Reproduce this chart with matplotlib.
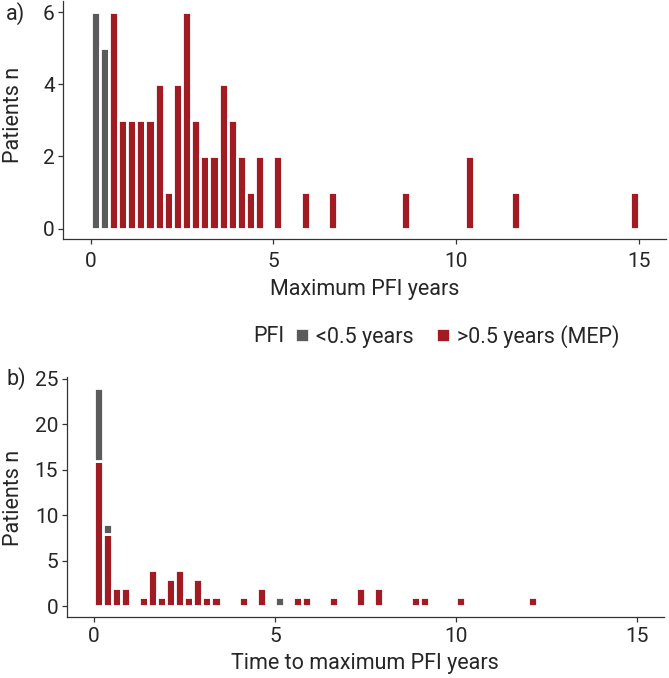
"""
Two histograms of platinum-free interval (PFI): maximum PFI and time to maximum PFI,
split into <0.5 years and >0.5 years (MEP).
"""

import numpy as np
import matplotlib.pyplot as plt
from matplotlib.lines import Line2D

plt.rcParams['font.family'] = ['Roboto', 'DejaVu Sans']

bin_width = 0.25

# a) maximum PFI, bin start (years) and patient counts
max_short_bin = [0.00, 0.25]
max_short_n = [6, 5]
max_long_bin = [0.50, 0.75, 1.00, 1.25, 1.50, 1.75, 2.00, 2.25, 2.50, 2.75, 3.00, 3.25,
                3.50, 3.75, 4.00, 4.25, 4.50, 5.00, 5.75, 6.50, 8.50, 10.25, 11.50, 14.75]
max_long_n = [6, 3, 3, 3, 3, 4, 1, 4, 6, 3, 2, 2,
              4, 3, 2, 1, 2, 2, 1, 1, 1, 2, 1, 1]

# b) time to maximum PFI
time_short_bin = [0.00, 0.25, 5.00]
time_short_n = [8, 1, 1]
time_long_bin = [0.00, 0.25, 0.50, 0.75, 1.25, 1.50, 1.75, 2.00, 2.25, 2.50, 2.75, 3.00,
                 3.25, 4.00, 4.50, 5.50, 5.75, 6.50, 7.25, 7.75, 8.75, 9.00, 10.00, 12.00]
time_long_n = [16, 8, 2, 2, 1, 4, 1, 3, 4, 1, 3, 1,
               1, 1, 2, 1, 1, 1, 2, 2, 1, 1, 1, 1]

grey = "#5b5b5b"
red = "#a01b22"
text_col = "#262626"
axis_col = "#333333"
label_size = 15.5
tick_size = 15


def style_axes(ax, yticks, ylim, xlabel, xpad, labelpad):
    ax.set_xlim(-0.75, 15.75)
    ax.set_ylim(*ylim)
    ax.set_xticks([0, 5, 10, 15])
    ax.set_yticks(yticks)
    for side in ["top", "right"]:
        ax.spines[side].set_visible(False)
    for side in ["left", "bottom"]:
        ax.spines[side].set_color(axis_col)
        ax.spines[side].set_linewidth(0.9)
    ax.tick_params(colors=axis_col, labelcolor=text_col, labelsize=tick_size,
                   length=3.6, width=0.9)
    ax.tick_params(axis="x", pad=xpad)
    ax.tick_params(axis="y", pad=2.5)
    ax.set_xlabel(xlabel, fontsize=label_size, color=text_col, labelpad=labelpad)


fig = plt.figure(figsize=(6.69, 6.78), dpi=100)
ax_a = fig.add_axes([0.0946, 0.647, 0.901, 0.3508])
ax_b = fig.add_axes([0.0997, 0.0895, 0.8928, 0.3545])

bar_kw = dict(width=bin_width, align="edge", edgecolor="white", linewidth=2.0)

# panel a
ax_a.bar(max_short_bin, max_short_n, color=grey, **bar_kw)
ax_a.bar(max_long_bin, max_long_n, color=red, **bar_kw)
style_axes(ax_a, [0, 2, 4, 6], (-0.3, 6.3), "Maximum PFI years", 5.2, 6)

# panel b, stacked: <0.5 years on top of >0.5 years
long_lookup = dict(zip(time_long_bin, time_long_n))
short_bottom = [long_lookup.get(b, 0) for b in time_short_bin]
ax_b.bar(time_long_bin, time_long_n, color=red, **bar_kw)
ax_b.bar(time_short_bin, time_short_n, bottom=short_bottom, color=grey, **bar_kw)
style_axes(ax_b, [0, 5, 10, 15, 20, 25], (-1.2, 25.2), "Time to maximum PFI years", 3.5, 5)

# y labels and panel letters
fig.text(0.0195, 0.830, "Patients n", rotation=90, fontsize=label_size,
         color=text_col, ha="center", va="center")
fig.text(0.0195, 0.265, "Patients n", rotation=90, fontsize=label_size,
         color=text_col, ha="center", va="center")
fig.text(0.009, 0.980, "a)", fontsize=label_size, color=text_col, ha="left", va="center")
fig.text(0.009, 0.441, "b)", fontsize=label_size, color=text_col, ha="left", va="center")

# legend
legend_y = 0.504
fig.text(0.378, legend_y, "PFI", fontsize=label_size, color=text_col, ha="left", va="center")
handles = [Line2D([], [], marker="s", linestyle="none", markersize=8.6,
                  markerfacecolor=c, markeredgecolor="white", markeredgewidth=0.5)
           for c in (grey, red)]
fig.legend(handles, ["<0.5 years", ">0.5 years (MEP)"], ncol=2, frameon=False,
           loc="center left", bbox_to_anchor=(0.442, legend_y), fontsize=label_size,
           handlelength=0.56, handletextpad=0.37, columnspacing=1.1,
           labelcolor=text_col, borderaxespad=0, borderpad=0)

fig.savefig("out.png", dpi=100)
